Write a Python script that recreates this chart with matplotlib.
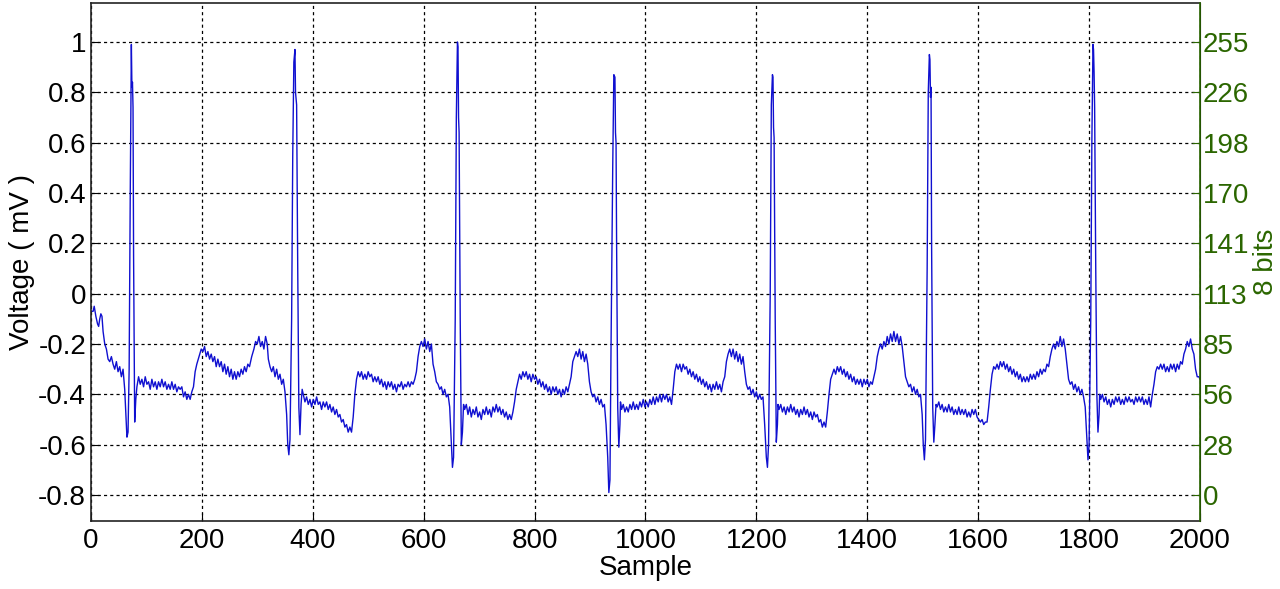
import matplotlib
matplotlib.use("Agg")
import matplotlib.pyplot as plt

plt.rcParams["font.family"] = ["Liberation Sans", "DejaVu Sans"]
plt.rcParams["axes.unicode_minus"] = False

# ECG trace (sample index, millivolts)
sample = [
    0, 4, 6, 9, 12, 14, 16, 18, 20, 22, 25, 28, 31, 34, 37, 40, 43, 46, 49, 52, 55, 58, 61, 63, 65, 67, 69, 71, 73, 74, 75, 76, 77, 79, 81, 83,
    86, 89, 92, 95, 98, 101, 104, 107, 110, 113, 116, 119, 122, 125, 128, 131, 134, 137, 140, 143, 146, 149, 152, 155, 158, 161, 164, 167, 170, 173, 176, 179, 182, 185, 188, 191, 195, 199,
    202, 205, 208, 211, 214, 217, 220, 223, 226, 229, 232, 235, 238, 241, 244, 247, 250, 253, 256, 259, 262, 265, 268, 271, 274, 277, 280, 283, 286, 290, 294, 297,
    300, 303, 306, 309, 312, 315, 318, 320, 323, 326, 329, 332, 335, 338, 341, 344, 347, 350, 353, 355, 357, 359, 362, 364, 366, 368, 369, 371, 373, 375, 377, 379, 381,
    383, 386, 389, 392, 395, 398, 401, 404, 407, 410, 413, 416, 419, 422, 425, 428, 431, 434, 437, 440, 443, 446, 449, 452, 455, 458, 461, 464, 467, 470, 473, 476, 479,
    482, 485, 488, 491, 494, 497, 500, 503, 506, 509, 512, 515, 518, 521, 524, 527, 530, 533, 536, 539, 542, 545, 548, 551, 554, 557, 560, 563, 566, 569, 572, 575, 578, 581, 584, 587,
    590, 593, 596, 599, 602, 605, 608, 611, 614, 617, 620, 623, 626, 629, 632, 635, 638, 641, 644, 647, 650, 652, 654, 657, 659, 661, 662, 663, 664, 666, 668, 670, 672,
    674, 677, 680, 683, 686, 689, 692, 695, 698, 701, 704, 707, 710, 713, 716, 719, 722, 725, 728, 731, 734, 737, 740, 743, 746, 749, 752, 755, 758, 761, 764, 767, 770,
    773, 776, 779, 782, 785, 788, 791, 794, 797, 800, 803, 806, 809, 812, 815, 818, 821, 824, 827, 830, 833, 836, 839, 842, 845, 848, 851, 854, 857, 860, 863, 866,
    869, 872, 875, 878, 881, 884, 887, 890, 893, 896, 899, 902, 905, 908, 911, 914, 917, 920, 923, 926, 929, 932, 934, 936, 938, 941, 943, 945, 946, 947, 948, 950, 952, 954, 955,
    957, 960, 963, 966, 969, 972, 975, 978, 981, 984, 987, 990, 993, 996, 999, 1002, 1005, 1008, 1011, 1014, 1017, 1020, 1023, 1026, 1029, 1032, 1035, 1038, 1041, 1044, 1047,
    1050, 1053, 1056, 1059, 1062, 1065, 1068, 1071, 1074, 1077, 1080, 1083, 1086, 1089, 1092, 1095, 1098, 1101, 1104, 1107, 1110, 1113, 1116, 1119, 1122, 1125, 1128, 1131, 1134, 1137, 1140,
    1143, 1146, 1149, 1152, 1155, 1158, 1161, 1164, 1167, 1170, 1173, 1176, 1179, 1182, 1185, 1188, 1191, 1194, 1197, 1200, 1203, 1206, 1209, 1212, 1215, 1218, 1220, 1222, 1225, 1227,
    1229, 1230, 1231, 1232, 1234, 1236, 1238, 1239,
    1241, 1244, 1247, 1250, 1253, 1256, 1259, 1262, 1265, 1268, 1271, 1274, 1277, 1280, 1283, 1286, 1289, 1292, 1295, 1298, 1301, 1304, 1307, 1310, 1313, 1316, 1319, 1322, 1325, 1328,
    1331, 1334, 1337, 1340, 1343, 1346, 1349, 1352, 1355, 1358, 1361, 1364, 1367, 1370, 1373, 1376, 1379, 1382, 1385, 1388, 1391, 1394, 1397, 1400, 1403, 1406, 1409, 1412, 1415,
    1418, 1421, 1424, 1427, 1430, 1433, 1436, 1439, 1442, 1445, 1448, 1451, 1454, 1457, 1460, 1463, 1466, 1469, 1472, 1475, 1478, 1481, 1484, 1487, 1490, 1493, 1496, 1499, 1501,
    1503, 1505, 1508, 1510, 1512, 1513, 1514, 1515, 1516, 1518, 1520, 1522, 1524,
    1526, 1529, 1532, 1535, 1538, 1541, 1544, 1547, 1550, 1553, 1556, 1559, 1562, 1565, 1568, 1571, 1574, 1577, 1580, 1583, 1586, 1589, 1592, 1595, 1598, 1601, 1604, 1607, 1610,
    1613, 1616, 1619, 1622, 1625, 1628, 1631, 1634, 1637, 1640, 1643, 1646, 1649, 1652, 1655, 1658, 1661, 1664, 1667, 1670, 1673, 1676, 1679, 1682, 1685, 1688, 1691, 1694, 1697,
    1700, 1703, 1706, 1709, 1712, 1715, 1718, 1721, 1724, 1727, 1730, 1733, 1736, 1739, 1742, 1745, 1748, 1751, 1754, 1757, 1760, 1763, 1766, 1769, 1772, 1775, 1778, 1781, 1784,
    1787, 1790, 1793, 1796, 1798, 1800, 1803, 1805, 1807, 1808, 1809, 1810, 1812, 1814, 1816, 1818, 1819,
    1821, 1824, 1827, 1830, 1833, 1836, 1839, 1842, 1845, 1848, 1851, 1854, 1857, 1860, 1863, 1866, 1869, 1872, 1875, 1878, 1881, 1884, 1887, 1890, 1893, 1896, 1899, 1902, 1905,
    1908, 1911, 1914, 1917, 1920, 1923, 1926, 1929, 1932, 1935, 1938, 1941, 1944, 1947, 1950, 1953, 1956, 1959, 1962, 1965, 1968, 1971, 1974, 1977, 1980, 1983, 1986, 1989, 1992,
    1995, 1998, 2000,
]
voltage = [
    -0.07, -0.07, -0.05, -0.09, -0.12, -0.13, -0.10, -0.08, -0.09, -0.15, -0.20, -0.22, -0.26, -0.27, -0.25, -0.28, -0.30, -0.27, -0.31, -0.29, -0.33, -0.30, -0.38, -0.48, -0.57, -0.55, -0.30, 0.40, 0.99, 0.82, 0.84, 0.74, 0.15, -0.51, -0.42, -0.37,
    -0.33, -0.36, -0.34, -0.37, -0.33, -0.36, -0.35, -0.38, -0.34, -0.37, -0.35, -0.38, -0.35, -0.37, -0.34, -0.37, -0.35, -0.38, -0.36, -0.38, -0.35, -0.38, -0.36, -0.39, -0.37, -0.38, -0.37, -0.41, -0.39, -0.42, -0.40, -0.42, -0.39, -0.37, -0.31, -0.28, -0.25, -0.22,
    -0.23, -0.21, -0.25, -0.23, -0.26, -0.24, -0.27, -0.25, -0.29, -0.26, -0.29, -0.27, -0.31, -0.28, -0.32, -0.29, -0.33, -0.30, -0.34, -0.31, -0.34, -0.31, -0.33, -0.30, -0.32, -0.29, -0.31, -0.28, -0.29, -0.25, -0.22, -0.19,
    -0.20, -0.17, -0.21, -0.19, -0.22, -0.17, -0.20, -0.26, -0.29, -0.31, -0.29, -0.33, -0.30, -0.34, -0.32, -0.36, -0.34, -0.39, -0.48, -0.60, -0.64, -0.58, -0.10, 0.55, 0.92, 0.97, 0.80, 0.75, 0.10, -0.45, -0.56, -0.44, -0.38,
    -0.40, -0.43, -0.41, -0.44, -0.42, -0.45, -0.42, -0.44, -0.41, -0.44, -0.43, -0.46, -0.43, -0.45, -0.43, -0.46, -0.44, -0.47, -0.45, -0.48, -0.46, -0.49, -0.48, -0.51, -0.50, -0.53, -0.52, -0.55, -0.53, -0.55, -0.49, -0.40, -0.34,
    -0.31, -0.33, -0.31, -0.34, -0.32, -0.34, -0.31, -0.33, -0.32, -0.35, -0.33, -0.35, -0.33, -0.36, -0.34, -0.37, -0.35, -0.38, -0.35, -0.37, -0.35, -0.38, -0.36, -0.39, -0.36, -0.37, -0.35, -0.38, -0.36, -0.37, -0.35, -0.37, -0.35, -0.36, -0.34, -0.31,
    -0.25, -0.21, -0.19, -0.21, -0.18, -0.22, -0.19, -0.23, -0.20, -0.28, -0.31, -0.35, -0.36, -0.38, -0.37, -0.40, -0.38, -0.41, -0.40, -0.45, -0.60, -0.69, -0.65, -0.10, 0.70, 1.00, 0.98, 0.70, 0.64, -0.10, -0.60, -0.55, -0.44,
    -0.46, -0.44, -0.48, -0.45, -0.49, -0.46, -0.48, -0.45, -0.49, -0.47, -0.50, -0.46, -0.48, -0.45, -0.48, -0.46, -0.49, -0.45, -0.47, -0.44, -0.47, -0.45, -0.48, -0.46, -0.49, -0.47, -0.50, -0.48, -0.50, -0.47, -0.43, -0.38, -0.35,
    -0.32, -0.34, -0.31, -0.33, -0.31, -0.34, -0.32, -0.35, -0.32, -0.34, -0.33, -0.36, -0.34, -0.37, -0.35, -0.38, -0.36, -0.39, -0.37, -0.40, -0.37, -0.39, -0.37, -0.40, -0.38, -0.41, -0.38, -0.40, -0.37, -0.39, -0.36, -0.33,
    -0.27, -0.25, -0.23, -0.25, -0.22, -0.26, -0.23, -0.27, -0.24, -0.28, -0.35, -0.39, -0.41, -0.40, -0.43, -0.41, -0.44, -0.42, -0.45, -0.44, -0.52, -0.65, -0.79, -0.74, -0.20, 0.50, 0.87, 0.86, 0.64, 0.60, 0.20, -0.45, -0.61, -0.52, -0.43,
    -0.46, -0.44, -0.47, -0.45, -0.47, -0.44, -0.46, -0.43, -0.46, -0.44, -0.46, -0.43, -0.45, -0.42, -0.45, -0.43, -0.45, -0.42, -0.44, -0.41, -0.44, -0.41, -0.43, -0.40, -0.43, -0.40, -0.42, -0.40, -0.43, -0.41, -0.44,
    -0.38, -0.31, -0.28, -0.30, -0.28, -0.31, -0.28, -0.30, -0.29, -0.32, -0.30, -0.33, -0.31, -0.34, -0.32, -0.35, -0.33, -0.36, -0.34, -0.37, -0.35, -0.38, -0.36, -0.39, -0.36, -0.38, -0.35, -0.38, -0.36, -0.39, -0.35,
    -0.33, -0.27, -0.24, -0.22, -0.25, -0.22, -0.26, -0.23, -0.27, -0.24, -0.28, -0.25, -0.31, -0.36, -0.38, -0.37, -0.40, -0.38, -0.41, -0.39, -0.42, -0.40, -0.42, -0.41, -0.52, -0.65, -0.69, -0.60, 0.00, 0.75,
    0.87, 0.86, 0.66, 0.62, -0.10, -0.59, -0.52, -0.44,
    -0.46, -0.44, -0.47, -0.45, -0.48, -0.45, -0.47, -0.44, -0.47, -0.45, -0.48, -0.46, -0.49, -0.46, -0.48, -0.45, -0.48, -0.46, -0.49, -0.47, -0.50, -0.47, -0.49, -0.48, -0.51, -0.50, -0.53, -0.51, -0.53, -0.47,
    -0.40, -0.34, -0.32, -0.30, -0.32, -0.29, -0.31, -0.29, -0.32, -0.30, -0.33, -0.31, -0.34, -0.32, -0.35, -0.33, -0.36, -0.34, -0.36, -0.34, -0.37, -0.34, -0.36, -0.34, -0.37, -0.35, -0.36, -0.33, -0.30,
    -0.25, -0.22, -0.20, -0.22, -0.19, -0.21, -0.17, -0.20, -0.16, -0.19, -0.15, -0.19, -0.16, -0.20, -0.17, -0.21, -0.27, -0.33, -0.35, -0.37, -0.36, -0.39, -0.37, -0.40, -0.38, -0.41, -0.40, -0.48, -0.60,
    -0.66, -0.58, 0.10, 0.80, 0.95, 0.93, 0.78, 0.82, 0.20, -0.45, -0.59, -0.52, -0.44,
    -0.45, -0.43, -0.46, -0.44, -0.47, -0.45, -0.47, -0.44, -0.47, -0.45, -0.48, -0.46, -0.48, -0.45, -0.48, -0.46, -0.48, -0.46, -0.49, -0.47, -0.49, -0.46, -0.48, -0.46, -0.49, -0.50, -0.51, -0.50, -0.52,
    -0.51, -0.51, -0.45, -0.38, -0.32, -0.29, -0.30, -0.28, -0.30, -0.27, -0.29, -0.27, -0.30, -0.28, -0.31, -0.29, -0.32, -0.30, -0.33, -0.31, -0.34, -0.32, -0.35, -0.33, -0.35, -0.33, -0.35, -0.32, -0.34,
    -0.32, -0.34, -0.31, -0.33, -0.30, -0.32, -0.30, -0.31, -0.28, -0.29, -0.25, -0.22, -0.20, -0.22, -0.19, -0.21, -0.17, -0.21, -0.18, -0.22, -0.28, -0.34, -0.36, -0.35, -0.38, -0.36, -0.39, -0.37, -0.40,
    -0.38, -0.41, -0.45, -0.58, -0.66, -0.60, -0.10, 0.60, 0.99, 0.97, 0.88, 0.74, 0.10, -0.40, -0.55, -0.48, -0.40,
    -0.42, -0.40, -0.43, -0.41, -0.44, -0.42, -0.45, -0.42, -0.44, -0.41, -0.43, -0.41, -0.44, -0.42, -0.44, -0.41, -0.43, -0.41, -0.43, -0.42, -0.44, -0.41, -0.43, -0.41, -0.43, -0.41, -0.44, -0.42, -0.44,
    -0.41, -0.45, -0.40, -0.36, -0.31, -0.29, -0.30, -0.28, -0.30, -0.28, -0.31, -0.29, -0.31, -0.28, -0.30, -0.28, -0.31, -0.28, -0.30, -0.27, -0.28, -0.24, -0.22, -0.19, -0.21, -0.18, -0.22, -0.24, -0.30,
    -0.33, -0.33, -0.34,
]

volt_ticks = [-0.8, -0.6, -0.4, -0.2, 0, 0.2, 0.4, 0.6, 0.8, 1]
volt_labels = ["-0.8", "-0.6", "-0.4", "-0.2", "0", "0.2", "0.4", "0.6", "0.8", "1"]
bit_labels = ["0", "28", "56", "85", "113", "141", "170", "198", "226", "255"]
sample_ticks = list(range(0, 2001, 200))

green = "#2b6600"

fig = plt.figure(figsize=(12.8, 5.89), dpi=100)
ax = fig.add_axes([0.071, 0.1155, 0.8665, 0.8795])

ax.plot(sample, voltage, color="#1010d0", lw=1.0)

ax.set_xlim(0, 2000)
ax.set_ylim(-0.903, 1.155)
ax.set_xticks(sample_ticks)
ax.set_yticks(volt_ticks)
ax.set_yticklabels(volt_labels)
ax.grid(True, color="black", linestyle=(0, (2.5, 2.5)), linewidth=0.9)
ax.tick_params(direction="in", length=6, labelsize=20, right=False, top=False)
ax.tick_params(axis="x", pad=5)
ax.set_xlabel("Sample", fontsize=20, labelpad=1)
ax.set_ylabel("Voltage ( mV )", fontsize=20, labelpad=2)
for side in ["left", "bottom", "top"]:
    ax.spines[side].set_color("#222222")
    ax.spines[side].set_linewidth(1.2)

ax2 = ax.twinx()
ax2.set_ylim(ax.get_ylim())
ax2.set_yticks(volt_ticks)
ax2.set_yticklabels(bit_labels)
ax2.tick_params(direction="in", length=6, labelsize=20, colors=green, pad=2)
ax2.set_ylabel("8 bits", fontsize=20, color=green, labelpad=3)
ax2.spines["right"].set_color(green)
ax2.spines["right"].set_linewidth(1.2)
for side in ["left", "bottom", "top"]:
    ax2.spines[side].set_visible(False)

fig.savefig("out.png", dpi=100)
